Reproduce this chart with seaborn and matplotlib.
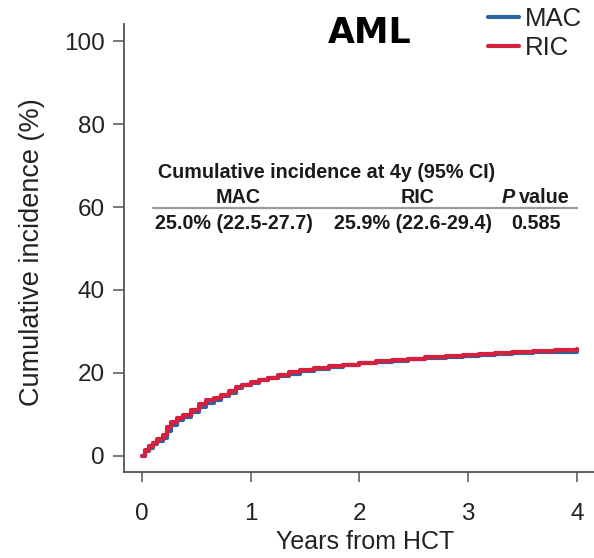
import matplotlib
matplotlib.use("Agg")
import matplotlib.pyplot as plt
import seaborn as sns
import pandas as pd

sns.set_theme(style="white")
plt.rcParams['font.family'] = ['Liberation Sans', 'DejaVu Sans']

# ---- data ----
times = [0, 0.03, 0.06, 0.10, 0.14, 0.19, 0.23, 0.27, 0.32, 0.38, 0.45, 0.52, 0.59, 0.66,
         0.73, 0.80, 0.86, 0.92, 1.0, 1.08, 1.16, 1.25, 1.35, 1.45, 1.58, 1.72, 1.85, 2.0,
         2.15, 2.3, 2.45, 2.6, 2.8, 2.95, 3.1, 3.25, 3.4, 3.6, 3.8, 4.0]
mac_ci = [0, 1.2, 2.0, 2.8, 3.6, 4.4, 6.0, 7.4, 8.6, 9.3, 10.6, 11.8, 12.8, 13.6, 14.4, 15.2,
          16.3, 17.0, 17.6, 18.2, 18.7, 19.2, 19.8, 20.4, 20.9, 21.4, 21.9, 22.3, 22.7, 23.0,
          23.3, 23.6, 23.9, 24.2, 24.4, 24.6, 24.9, 25.0, 25.0, 25.1]
ric_ci = [0, 1.5, 2.4, 3.2, 4.0, 5.0, 7.0, 8.2, 9.2, 9.9, 11.2, 12.5, 13.4, 14.0, 14.6, 15.6,
          16.6, 17.2, 17.9, 18.4, 18.9, 19.5, 20.2, 20.7, 21.2, 21.6, 22.0, 22.4, 22.8, 23.1,
          23.4, 23.8, 24.1, 24.4, 24.6, 24.9, 25.1, 25.3, 25.6, 25.9]
groups = ["MAC", "RIC"]
colors = {"MAC": "#2a64a0", "RIC": "#d5213e"}
x_ticks = [0, 1, 2, 3, 4]
y_ticks = [0, 20, 40, 60, 80, 100]
table_title = "Cumulative incidence at 4y (95% CI)"
table_header = ["MAC", "RIC"]
table_values = ["25.0% (22.5-27.7)", "25.9% (22.6-29.4)", "0.585"]

df = pd.concat([
    pd.DataFrame({"t": times, "ci": mac_ci, "group": "MAC"}),
    pd.DataFrame({"t": times, "ci": ric_ci, "group": "RIC"}),
])

fig = plt.figure(figsize=(5.94, 5.58), dpi=100)
ax = fig.add_axes([124/594, 1 - 472/558, 1 - 124/594, (472 - 24)/558])

sns.lineplot(data=df, x="t", y="ci", hue="group", hue_order=groups, palette=colors,
             drawstyle="steps-post", linewidth=3.0, ax=ax, legend=True, estimator=None)

ax.set_xlim(-0.166, 4.157)
ax.set_ylim(-3.86, 104.1)
ax.set_xticks(x_ticks)
ax.set_yticks(y_ticks)
ax.set_xticklabels([str(v) for v in x_ticks])
ax.set_yticklabels([str(v) for v in y_ticks])

for s in ["top", "right"]:
    ax.spines[s].set_visible(False)
for s in ["left", "bottom"]:
    ax.spines[s].set_color("#555555")
    ax.spines[s].set_linewidth(1.3)

ax.tick_params(axis="both", which="major", direction="out", color="#555555",
               labelcolor="#222222", labelsize=17.5, width=1.1)
ax.tick_params(axis="y", length=8, pad=6, left=True)
ax.tick_params(axis="x", length=7, pad=15, bottom=True)

ax.set_xlabel("Years from HCT", fontsize=18, color="#222222")
ax.set_ylabel("Cumulative incidence (%)", fontsize=19.5, color="#222222")
ax.xaxis.set_label_coords((365 - 124) / 470, -(530 - 472) / 448)
ax.yaxis.set_label_coords((45 - 124) / 470, (472 - 252) / 448)

# legend
leg = ax.legend(loc="upper left", bbox_to_anchor=(488/594, 1 - 7/558),
                bbox_transform=fig.transFigure, frameon=False, fontsize=18.5,
                handlelength=1.2, handletextpad=0.22, labelspacing=0.2,
                borderpad=0, borderaxespad=0)
for t in leg.get_texts():
    t.set_color("#222222")
for h in leg.get_lines():
    h.set_linewidth(3)

# title
fig.text(370/594, 1 - 33/558, "AML", family=["DejaVu Sans"], fontweight="bold",
         fontsize=25, ha="center", va="center", color="black")

# table annotation
tc = "#1a1a1a"
fs = 14.2
ax.text(1.70, 68.4, table_title, ha="center", va="center", fontsize=fs,
        fontweight="bold", color=tc)
ax.text(0.883, 62.4, table_header[0], ha="center", va="center", fontsize=fs,
        fontweight="bold", color=tc)
ax.text(2.53, 62.4, table_header[1], ha="center", va="center", fontsize=fs,
        fontweight="bold", color=tc)
ax.text(3.31, 62.4, "P", ha="left", va="center", fontsize=fs, fontweight="bold",
        fontstyle="italic", color=tc)
ax.text(3.47, 62.4, "value", ha="left", va="center", fontsize=fs, fontweight="bold",
        color=tc)
ax.plot([0.10, 4.0], [59.8, 59.8], color="#9a9a9a", linewidth=1.6)
ax.text(0.846, 56.0, table_values[0], ha="center", va="center", fontsize=fs,
        fontweight="bold", color=tc)
ax.text(2.49, 56.0, table_values[1], ha="center", va="center", fontsize=fs,
        fontweight="bold", color=tc)
ax.text(3.62, 56.0, table_values[2], ha="center", va="center", fontsize=fs,
        fontweight="bold", color=tc)

fig.savefig("out.png", dpi=100)
